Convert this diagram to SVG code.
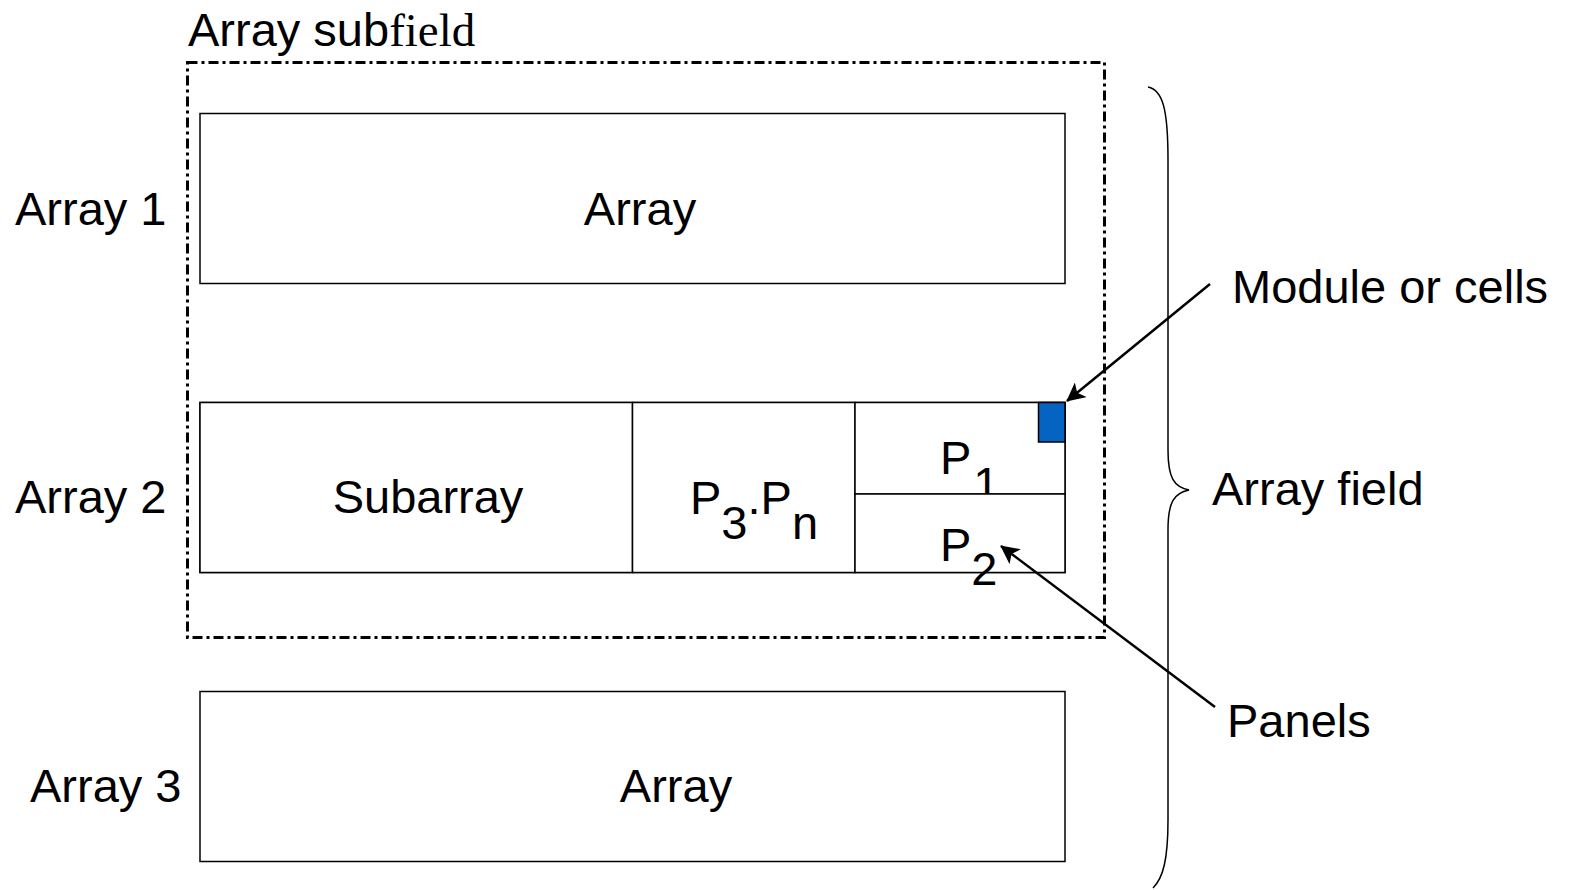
<svg xmlns="http://www.w3.org/2000/svg" width="1575" height="890" viewBox="0 0 1575 890">
  <style>
    .box { fill: #ffffff; stroke: #000000; stroke-width: 1.5; }
    .t { font-family: "Liberation Sans", Arial, sans-serif; font-size: 47px; fill: #000000; }
    .serif { font-family: "Liberation Serif", "Times New Roman", serif; }
    .lead { stroke: #000000; stroke-width: 2.5; fill: none; }
    .brace { stroke: #000000; stroke-width: 1.5; fill: none; }
  </style>
  <defs>
    <marker id="arrow" viewBox="0 0 10 10" refX="9.5" refY="5" markerWidth="7.5" markerHeight="7.5" markerUnits="strokeWidth" orient="auto">
      <path d="M0,0 L10,5 L0,10 L2.5,5 Z" fill="#000000"/>
    </marker>
  </defs>
  <rect width="1575" height="890" fill="#ffffff"/>

  <!-- subfield boundary (dash-dot) -->
  <g id="subfield">
    <rect x="187.5" y="62.5" width="917" height="575" fill="none" stroke="#000000" stroke-width="3" stroke-dasharray="10,4,3,4"/>
    <text class="t" x="188" y="46">Array sub<tspan class="serif">field</tspan></text>
  </g>

  <!-- row labels -->
  <g id="label-array1"><text class="t" x="15" y="225">Array 1</text></g>
  <g id="label-array2"><text class="t" x="15" y="513">Array 2</text></g>
  <g id="label-array3"><text class="t" x="30" y="802">Array 3</text></g>

  <!-- array 1 -->
  <g id="array1">
    <rect class="box" x="200" y="113.5" width="865" height="170"/>
    <text class="t" x="640" y="225" text-anchor="middle">Array</text>
  </g>

  <!-- array 2: subarray, panels -->
  <g id="array2">
    <rect class="box" x="200" y="402.5" width="865" height="170"/>
  </g>
  <g id="subarray">
    <rect class="box" x="200" y="402.5" width="432.5" height="170"/>
    <text class="t" x="428" y="513" text-anchor="middle">Subarray</text>
  </g>
  <g id="panels-3-n">
    <rect class="box" x="632.5" y="402.5" width="222.5" height="170"/>
    <text class="t" x="690" y="514">P<tspan dy="25">3</tspan><tspan dy="-25">.P</tspan><tspan dy="25">n</tspan></text>
  </g>
  <g id="panel-1">
    <rect class="box" x="855" y="402.5" width="210" height="91.5"/>
    <text class="t" x="940" y="474">P<tspan dy="26" dx="2">1</tspan></text>
  </g>
  <g id="panel-2">
    <rect class="box" x="855" y="494" width="210" height="78.5"/>
    <text class="t" x="940" y="561">P<tspan dy="24">2</tspan></text>
  </g>
  <g id="module">
    <rect x="1038.5" y="402.5" width="26.5" height="39.5" fill="#0563C1" stroke="#000000" stroke-width="1.5"/>
  </g>

  <!-- array 3 -->
  <g id="array3">
    <rect class="box" x="200" y="691.5" width="865" height="170"/>
    <text class="t" x="676" y="802" text-anchor="middle">Array</text>
  </g>

  <!-- field brace -->
  <g id="field-brace">
    <path class="brace" d="M1148,87 C1163,90 1168,110 1168,160 L1168,450 C1168,478 1174,487 1189,490 C1174,493 1168,502 1168,530 L1168,820 C1168,860 1163,878 1153,888"/>
  </g>

  <!-- annotations -->
  <g id="label-module"><text class="t" x="1232" y="303">Module or cells</text></g>
  <g id="label-field"><text class="t" x="1212" y="505">Array field</text></g>
  <g id="label-panels"><text class="t" x="1227" y="737">Panels</text></g>

  <g id="connectors">
    <line class="lead" x1="1210" y1="284" x2="1067" y2="401" marker-end="url(#arrow)"/>
    <line class="lead" x1="1215" y1="707" x2="1001" y2="546" marker-end="url(#arrow)"/>
  </g>
</svg>
